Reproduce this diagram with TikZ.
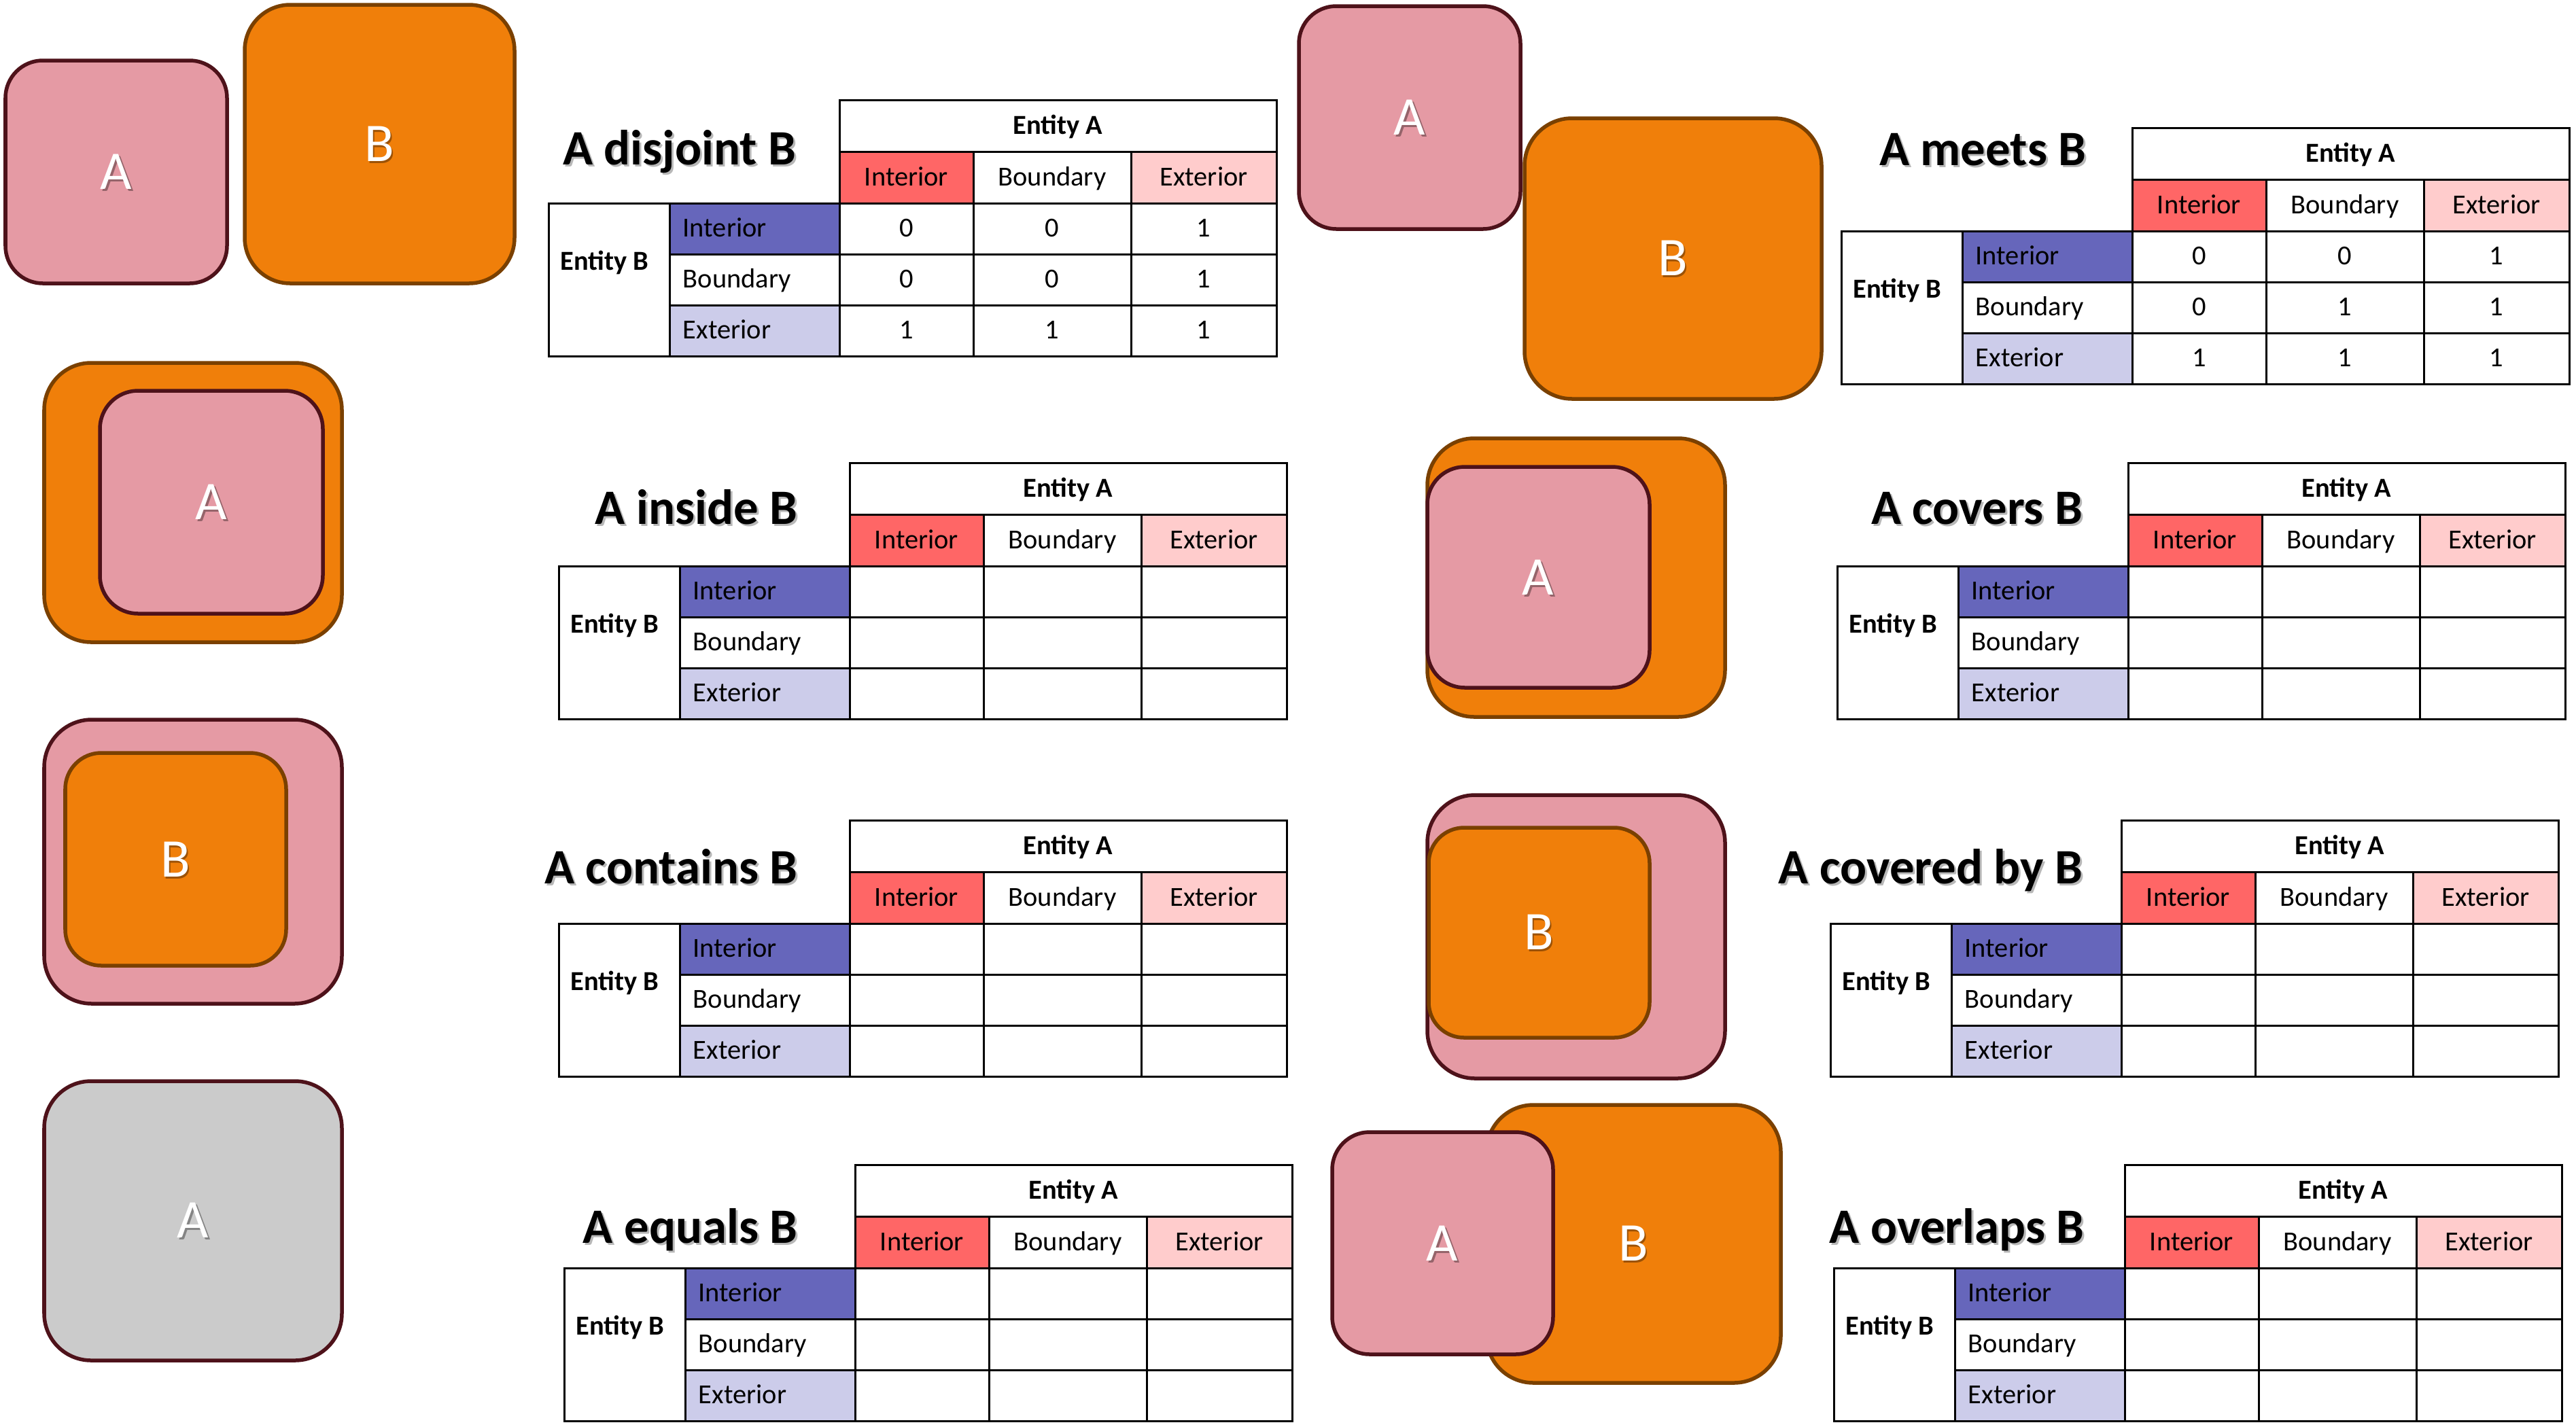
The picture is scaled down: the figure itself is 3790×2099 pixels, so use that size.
\documentclass[tikz,border=0pt]{standalone}
\usepackage{fontspec}
\setmainfont{Carlito}
\definecolor{pinkfill}{RGB}{229,154,164}
\definecolor{pinkline}{RGB}{78,18,26}
\definecolor{orangefill}{RGB}{240,127,10}
\definecolor{orangeline}{RGB}{122,64,0}
\definecolor{grayfill}{RGB}{203,203,203}
\definecolor{intA}{RGB}{255,102,102}
\definecolor{extA}{RGB}{255,204,204}
\definecolor{intB}{RGB}{102,102,187}
\definecolor{extB}{RGB}{204,204,234}
\tikzset{
  tl/.style={draw=black,line width=0.03cm},
  pinkbox/.style={fill=pinkfill,draw=pinkline,line width=0.055cm},
  orangebox/.style={fill=orangefill,draw=orangeline,line width=0.055cm},
  graybox/.style={fill=grayfill,draw=pinkline,line width=0.055cm},
  shapelbl/.style={text=white,font=\fontsize{22.8}{26}\selectfont,inner sep=0pt},
  shapeshadow/.style={shapelbl,text=black,text opacity=0.35},
  ttl/.style={font=\bfseries\fontsize{20.7}{24}\selectfont,anchor=base east,inner sep=0pt},
  ttlshadow/.style={ttl,text opacity=0.28},
  celltxt/.style={font=\fontsize{11.5}{14}\selectfont,inner sep=0pt,anchor=base},
  cellbold/.style={celltxt,font=\bfseries\fontsize{11.5}{14}\selectfont},
}
% rounded box: style, x1, y1, x2, y2, radius (cm)
\newcommand\RBox[6]{\draw[#1,rounded corners=#6] ({#2+3},{#3+3}) rectangle ({#4-3},{#5-3});}
% shape label with shadow: name, x, y, text
\newcommand\SLbl[4]{%
  \node[shapeshadow] (#1s) at ({#2+2.5},{#3+2.5}) {#4};
  \node[shapelbl] (#1) at (#2,#3) {#4};}
% title with shadow: name, right x, baseline y, text
\newcommand\TTL[4]{%
  \node[ttlshadow] (#1s) at ({#2+3},{#3+3.5}) {#4};
  \node[ttl] (#1) at (#2,#3) {#4};}
% table: prefix, x0, y0
\newcommand\IMtable[3]{%
\begin{scope}[shift={(#2,#3)}]
  \fill[intA] (428,76) rectangle (625,152);
  \fill[extA] (857,76) rectangle (1071,152);
  \fill[intB] (178,152) rectangle (428,227);
  \fill[extB] (178,302) rectangle (428,377);
  \draw[tl] (428,0) rectangle (1071,76);
  \draw[tl] (428,76) rectangle (625,152);
  \draw[tl] (625,76) rectangle (857,152);
  \draw[tl] (857,76) rectangle (1071,152);
  \draw[tl] (0,152) rectangle (178,377);
  \foreach \r/\s in {152/227,227/302,302/377}{
    \draw[tl] (178,\r) rectangle (428,\s);
    \foreach \c/\d in {428/625,625/857,857/1071}{
      \draw[tl] (\c,\r) rectangle (\d,\s);}}
  \node[cellbold] (#1-ea) at (749.5,50) {Entity A};
  \node[celltxt] (#1-hi) at (526.5,126) {Interior};
  \node[celltxt] (#1-hb) at (741,126) {Boundary};
  \node[celltxt] (#1-he) at (964,126) {Exterior};
  \node[cellbold,anchor=base west] (#1-eb) at (17,250) {Entity B};
  \node[celltxt,anchor=base west] (#1-ri) at (197,201.5) {Interior};
  \node[celltxt,anchor=base west] (#1-rb) at (197,276.5) {Boundary};
  \node[celltxt,anchor=base west] (#1-re) at (197,351.5) {Exterior};
\end{scope}}
% values: prefix, x0, y0, list of 9
\newcommand\IMvals[4]{%
\begin{scope}[shift={(#2,#3)}]
  \foreach \v [count=\i from 0] in {#4}{
    \pgfmathtruncatemacro\rr{floor(\i/3)}
    \pgfmathtruncatemacro\cc{mod(\i,3)}
    \pgfmathsetmacro\xx{{526.5,741,964}[\cc]}
    \pgfmathsetmacro\yy{201.5+75*\rr}
    \node[celltxt] (#1-v\i) at (\xx,\yy) {\v};}
\end{scope}}
\begin{document}
\begin{tikzpicture}[x=0.01cm,y=-0.01cm]
\useasboundingbox[fill=white] (0,0) rectangle (3790,2099);
% Panel 1: disjoint
\RBox{pinkbox}{5}{86}{337}{420}{0.55cm}
\RBox{orangebox}{357}{4}{760}{420}{0.67cm}
\SLbl{p1a}{171}{253}{A}
\SLbl{p1b}{558}{212}{B}
% Panel 2: meets
\RBox{orangebox}{2240}{171}{2683}{590}{0.70cm}
\RBox{pinkbox}{1908}{6}{2240}{340}{0.55cm}
\SLbl{p2a}{2074}{173}{A}
\SLbl{p2b}{2461}{380}{B}
% Panel 3: inside
\RBox{orangebox}{62}{531}{506}{948}{0.69cm}
\RBox{pinkbox}{144}{572}{478}{906}{0.56cm}
\SLbl{p3a}{311}{739}{A}
% Panel 4: covers
\RBox{orangebox}{2097}{642}{2541}{1058}{0.69cm}
\RBox{pinkbox}{2097}{684}{2430}{1015}{0.55cm}
\SLbl{p4a}{2263}{850}{A}
% Panel 5: contains
\RBox{pinkbox}{62}{1056}{506}{1480}{0.70cm}
\RBox{orangebox}{93}{1105}{424}{1424}{0.53cm}
\SLbl{p5b}{258}{1265}{B}
% Panel 6: covered by
\RBox{pinkbox}{2097}{1167}{2541}{1590}{0.70cm}
\RBox{orangebox}{2099}{1215}{2430}{1530}{0.52cm}
\SLbl{p6b}{2264}{1372}{B}
% Panel 7: equals
\RBox{graybox}{62}{1588}{506}{2005}{0.69cm}
\SLbl{p7a}{284}{1796}{A}
% Panel 8: overlaps
\RBox{orangebox}{2184}{1623}{2623}{2038}{0.69cm}
\RBox{pinkbox}{1957}{1663}{2288}{1996}{0.55cm}
\SLbl{p8a}{2122}{1830}{A}
\SLbl{p8b}{2403}{1830}{B}
% Titles
\TTL{t1}{1172}{242}{A disjoint B}
\TTL{t2}{3070}{243}{A meets B}
\TTL{t3}{1174}{771}{A inside B}
\TTL{t4}{3065}{771}{A covers B}
\TTL{t5}{1174}{1300}{A contains B}
\TTL{t6}{3065}{1300}{A covered by B}
\TTL{t7}{1174}{1829}{A equals B}
\TTL{t8}{3067}{1829}{A overlaps B}
% Tables
\IMtable{m1}{807}{147}
\IMvals{m1}{807}{147}{0,0,1,0,0,1,1,1,1}
\IMtable{m2}{2709}{188}
\IMvals{m2}{2709}{188}{0,0,1,0,1,1,1,1,1}
\IMtable{m3}{822}{681}
\IMtable{m4}{2703}{681}
\IMtable{m5}{822}{1207}
\IMtable{m6}{2693}{1207}
\IMtable{m7}{830}{1714}
\IMtable{m8}{2698}{1714}
\end{tikzpicture}
\end{document}
